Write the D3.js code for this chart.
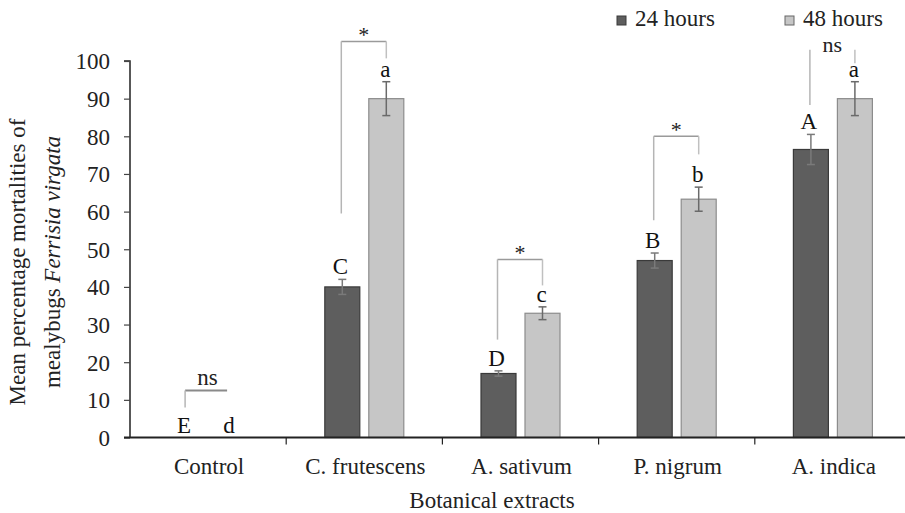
<!DOCTYPE html>
<html>
<head>
<meta charset="utf-8">
<script src="https://cdn.jsdelivr.net/npm/d3@7"></script>
</head>
<body style="margin:0">
<script>
// ---- data ----
const categories = ["Control", "C. frutescens", "A. sativum", "P. nigrum", "A. indica"];
const seriesNames = ["24 hours", "48 hours"];
const mean24 = [0, 40, 17, 47, 76.5];
const mean48 = [0, 90, 33, 63.3, 90];
const err24 = [0, 2, 0.7, 2, 4];
const err48 = [0, 4.5, 1.7, 3.2, 4.5];
const letters24 = ["E", "C", "D", "B", "A"];
const letters48 = ["d", "a", "c", "b", "a"];
const sigLabels = ["ns", "*", "*", "*", "ns"];
const bracketTop = [12.5, 105.2, 47.3, 80, 103];
const bracketLeftEnd = [8, 59.5, 26, 57.7, 88.3];
const bracketRightEnd = [null, 100.7, 40.4, 75.2, 99.4];
const bracketShowTop = [true, true, true, true, false];
const yTicks = [0, 10, 20, 30, 40, 50, 60, 70, 80, 90, 100];

// ---- layout ----
const W = 905, H = 513;
const FONT = '"Liberation Serif"';
const x0 = 130, x1 = 911;
const yBottom = 437.5, yTop = 61;

const svg = d3.select("body").append("svg").attr("width", W).attr("height", H);

const x = d3.scaleBand().domain(categories).range([x0, x1]).paddingInner(0).paddingOuter(0);
const y = d3.scaleLinear().domain([0, 100]).range([yBottom, yTop]);
const barW = 35, off = 22;
const dark = "#5e5e5e", darkStroke = "#3a3a3a", light = "#c6c6c6", lightStroke = "#8c8c8c";
const fs = 23;

function txt(sel) { return sel.style("font-family", FONT); }

const cx = c => x(c) + x.bandwidth() / 2;
const data = categories.map((c, i) => ({ c, i }));

const g = svg.append("g");
g.selectAll("rect.b24").data(data).enter().append("rect")
  .attr("x", d => cx(d.c) - off - barW / 2)
  .attr("y", d => y(mean24[d.i]))
  .attr("width", barW)
  .attr("height", d => y(0) - y(mean24[d.i]))
  .attr("fill", dark).attr("stroke", darkStroke).attr("stroke-width", 1.2);
g.selectAll("rect.b48").data(data).enter().append("rect")
  .attr("x", d => cx(d.c) + off - barW / 2)
  .attr("y", d => y(mean48[d.i]))
  .attr("width", barW)
  .attr("height", d => y(0) - y(mean48[d.i]))
  .attr("fill", light).attr("stroke", lightStroke).attr("stroke-width", 1.2);

// error bars
function errBar(xc, m, e, color) {
  if (e <= 0) return;
  g.append("line").attr("x1", xc).attr("x2", xc).attr("y1", y(m + e)).attr("y2", y(m - e))
    .attr("stroke", color).attr("stroke-width", 1.5);
  [m + e, m - e].forEach(v => g.append("line").attr("x1", xc - 4).attr("x2", xc + 4)
    .attr("y1", y(v)).attr("y2", y(v)).attr("stroke", color).attr("stroke-width", 1.5));
}
data.forEach(d => {
  errBar(cx(d.c) - off, mean24[d.i], err24[d.i], "#7a7a7a");
  errBar(cx(d.c) + off, mean48[d.i], err48[d.i], "#6a6a6a");
});

// letters
data.forEach(d => {
  txt(g.append("text")).attr("x", cx(d.c) - off - 2).attr("y", y(mean24[d.i] + err24[d.i]) - 5)
    .attr("text-anchor", "middle").attr("font-size", fs).attr("fill", "#111").text(letters24[d.i]);
  txt(g.append("text")).attr("x", cx(d.c) + off - 1).attr("y", y(mean48[d.i] + err48[d.i]) - 5)
    .attr("text-anchor", "middle").attr("font-size", fs).attr("fill", "#111").text(letters48[d.i]);
});

// significance brackets
data.forEach(d => {
  const xl = cx(d.c) - off - 1, xr = cx(d.c) + off;
  const yt = y(bracketTop[d.i]);
  const col = "#9a9a9a";
  if (bracketShowTop[d.i]) {
    g.append("line").attr("x1", xl).attr("x2", d.i === 0 ? xr - 3 : xr).attr("y1", yt).attr("y2", yt)
      .attr("stroke", d.i === 0 ? "#8a8a8a" : col).attr("stroke-width", d.i === 0 ? 2 : 1.5);
  }
  g.append("line").attr("x1", xl).attr("x2", xl).attr("y1", yt).attr("y2", y(bracketLeftEnd[d.i]))
    .attr("stroke", "#b5b5b5").attr("stroke-width", 1.5);
  if (bracketRightEnd[d.i] !== null) {
    g.append("line").attr("x1", xr).attr("x2", xr).attr("y1", yt).attr("y2", y(bracketRightEnd[d.i]))
      .attr("stroke", "#c0c0c0").attr("stroke-width", 1.5);
  }
  const isStar = sigLabels[d.i] === "*";
  const top = d.i === 4;
  txt(g.append("text")).attr("x", (xl + xr) / 2).attr("y", isStar ? yt + 1 : (top ? yt + 2 : yt - 5))
    .attr("text-anchor", "middle").attr("font-size", isStar ? 22 : (top ? 22 : fs)).attr("fill", "#222")
    .text(sigLabels[d.i]);
});

// axes
const yAxis = d3.axisLeft(y).tickValues(yTicks).tickSize(6).tickPadding(14);
const ya = svg.append("g").attr("transform", `translate(${x0},0)`).call(yAxis);
ya.select(".domain").attr("stroke", "#222").attr("stroke-width", 1.5).attr("d", `M-6,${yTop}H0V${yBottom}`);
ya.selectAll(".tick line").attr("stroke", "#444").attr("stroke-width", 1.2);
ya.selectAll(".tick text").attr("font-size", fs).style("font-family", FONT).attr("fill", "#222").attr("dy", "0.34em");

svg.append("line").attr("x1", x0 - 6).attr("x2", W).attr("y1", yBottom).attr("y2", yBottom)
  .attr("stroke", "#222").attr("stroke-width", 1.8);
svg.selectAll("line.xt").data(categories.slice(1)).enter().append("line")
  .attr("x1", d => x(d)).attr("x2", d => x(d)).attr("y1", yBottom).attr("y2", yBottom + 7)
  .attr("stroke", "#222").attr("stroke-width", 1.2);
svg.selectAll("text.xl").data(categories).enter().append("text")
  .style("font-family", FONT)
  .attr("x", d => cx(d) + 1).attr("y", 474)
  .attr("text-anchor", "middle").attr("font-size", fs).attr("fill", "#222").text(d => d);

txt(svg.append("text")).attr("x", 492).attr("y", 508).attr("text-anchor", "middle")
  .attr("font-size", fs).attr("fill", "#222").text("Botanical extracts");

// y title
const t1 = txt(svg.append("text")).attr("transform", "translate(25,262) rotate(-90)")
  .attr("text-anchor", "middle").attr("font-size", fs).attr("fill", "#222");
t1.text("Mean percentage mortalities of");
const l2 = txt(svg.append("text")).attr("transform", "translate(60,262) rotate(-90)")
  .attr("text-anchor", "middle").attr("font-size", fs).attr("fill", "#222");
l2.append("tspan").text("mealybugs ");
l2.append("tspan").attr("font-style", "italic").text("Ferrisia virgata");

// legend
const legX = [617, 785];
seriesNames.forEach((s, i) => {
  svg.append("rect").attr("x", legX[i]).attr("y", 16).attr("width", 9).attr("height", 9)
    .attr("fill", i === 0 ? dark : light).attr("stroke", i === 0 ? darkStroke : "#666").attr("stroke-width", 1);
  txt(svg.append("text")).attr("x", legX[i] + 18).attr("y", 26).attr("font-size", fs).attr("fill", "#222").text(s);
});
</script>
</body>
</html>
